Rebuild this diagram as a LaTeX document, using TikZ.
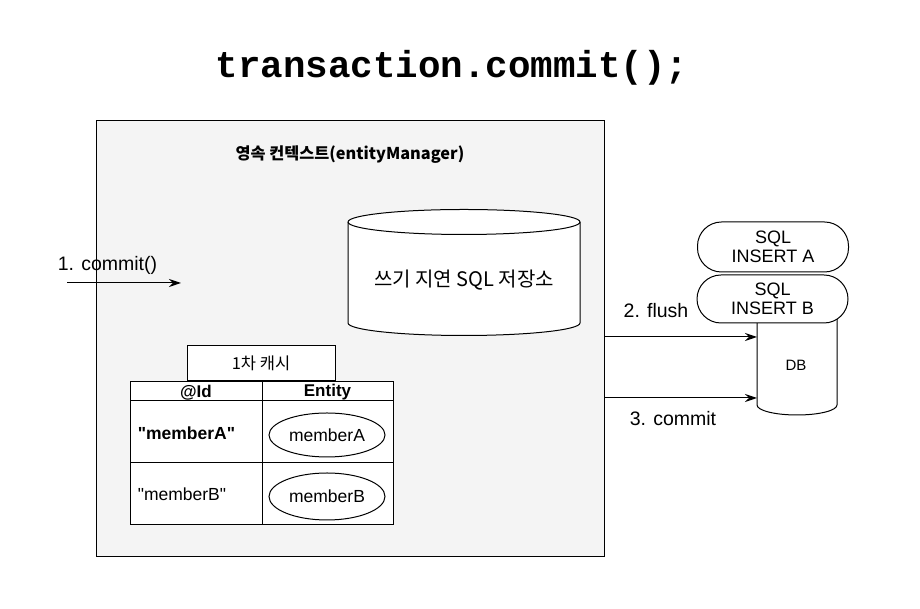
\documentclass[tikz,border=0pt]{standalone}
\usepackage{fontspec}
\setmainfont{Liberation Sans}
\newfontfamily\krfont{Noto Sans CJK KR}
\newfontfamily\codefont{Liberation Mono}
\usetikzlibrary{arrows.meta,shapes.geometric}
\definecolor{ctxgray}{RGB}{244,244,244}
\begin{document}
\begin{tikzpicture}[x=1pt,y=1pt,line width=1pt,>={Stealth[length=12pt,width=8pt,inset=4pt]},
	lbl/.style={font=\fontsize{19.5}{22}\selectfont},
	cell/.style={font=\fontsize{17.5}{20}\selectfont},
	cellbold/.style={font=\bfseries\fontsize{17}{20}\selectfont},
	entity/.style={draw,ellipse,fill=white,minimum width=116,minimum height=44,inner sep=0pt,cell},
	sqlbox/.style={draw,fill=white,rounded corners=24,minimum width=151,align=center,font=\fontsize{18}{19.5}\selectfont}]
	\useasboundingbox (0,0) rectangle (920,609);
	\node [font=\codefont\bfseries\fontsize{37.5}{40}\selectfont] (title) at (452,541) {transaction.commit();};
	% persistence context
	\node [draw,fill=ctxgray,minimum width=508,minimum height=436] (context) at (350,270) {};
	\node [font=\krfont\bfseries\fontsize{16.3}{19}\selectfont] (ctxname) at (350,454) {영속 컨텍스트(entityManager)};
	% write-behind store
	\draw [fill=white] (348,387) -- (348,286) arc[start angle=180,end angle=360,x radius=116,y radius=12.5] -- (580,387) arc[start angle=0,end angle=180,x radius=116,y radius=12.5] -- cycle;
	\draw (580,387) arc[start angle=0,end angle=-180,x radius=116,y radius=12.5];
	\node [font=\krfont\fontsize{20}{22}\selectfont] (store) at (464,329) {쓰기 지연 SQL 저장소};
	% call from outside
	\node [lbl,anchor=west] (calllbl) at (54,344) {1. commit()};
	\coordinate (callfrom) at (67,326);
	\coordinate (callto) at (181,326);
	\path (callfrom) edge [->] (callto);
	% first level cache
	\node [draw,fill=white,minimum width=148,minimum height=35,font=\krfont\fontsize{16.5}{18}\selectfont] (cache) at (261,245.5) {1차 캐시};
	\draw [fill=white] (130,84) rectangle (393,227);
	\draw (130,208) -- (393,208);
	\draw (130,146) -- (393,146);
	\draw (262,84) -- (262,227);
	\node [cellbold] (idhead) at (196,216.5) {@Id};
	\node [cellbold] (enthead) at (327.5,216.5) {Entity};
	\node [cellbold,font=\bfseries\fontsize{17.5}{20}\selectfont,anchor=west] (keya) at (134,176) {\textquotedbl memberA\textquotedbl};
	\node [entity] (enta) at (327,174) {memberA};
	\node [cell,anchor=west] (keyb) at (134,115) {\textquotedbl memberB\textquotedbl};
	\node [entity,minimum height=47] (entb) at (327,112.5) {memberB};
	% database
	\draw [fill=white] (757,320) -- (757,204) arc[start angle=180,end angle=360,x radius=40,y radius=10] -- (837,320) -- cycle;
	\node [font=\fontsize{15}{17}\selectfont] (db) at (796,244) {DB};
	\node [sqlbox,minimum height=50] (insa) at (773,362) {SQL\\INSERT A};
	\node [sqlbox,minimum height=48] (insb) at (772.5,310) {SQL\\INSERT B};
	% flush and commit
	\coordinate (flushto) at (757,272);
	\coordinate (committo) at (757,211);
	\path (context.east |- flushto) edge [->] (flushto);
	\path (context.east |- committo) edge [->] (committo);
	\node [lbl] (flushlbl) at (656,298) {2. flush};
	\node [lbl] (commitlbl) at (673,190) {3. commit};
\end{tikzpicture}
\end{document}
